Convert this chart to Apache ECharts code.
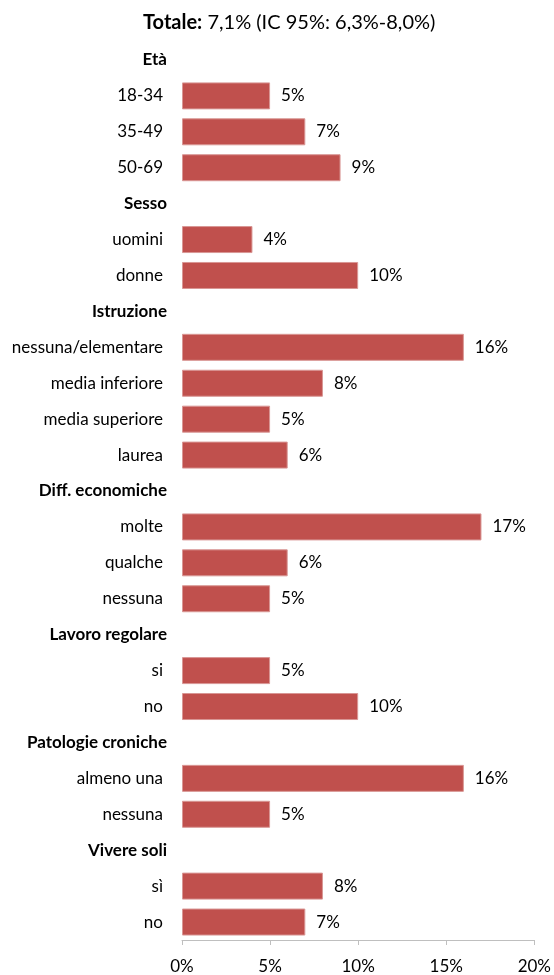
<!DOCTYPE html>
<html><head><meta charset="utf-8">
<script src="https://cdn.jsdelivr.net/npm/echarts@6/dist/echarts.min.js"></script>
<style>html,body{margin:0;padding:0;background:#fff}#c{width:554px;height:975px}</style>
</head><body><div id="c"></div>
<script>
const groups = ['Età','Sesso','Istruzione','Diff. economiche','Lavoro regolare','Patologie croniche','Vivere soli'];
const groupItems = [
  ['18-34','35-49','50-69'],
  ['uomini','donne'],
  ['nessuna/elementare','media inferiore','media superiore','laurea'],
  ['molte','qualche','nessuna'],
  ['si','no'],
  ['almeno una','nessuna'],
  ['sì','no']
];
const groupValues = [
  [5,7,9],
  [4,10],
  [16,8,5,6],
  [17,6,5],
  [5,10],
  [16,5],
  [8,7]
];
const xTicks = [0,5,10,15,20];
const titleBold = 'Totale:';
const titleRest = ' 7,1% (IC 95%: 6,3%-8,0%)';

const categories = [], values = [], isHeader = [];
groups.forEach((g,i)=>{
  categories.push(g); values.push(null); isHeader.push(true);
  groupItems[i].forEach((it,j)=>{ categories.push(it); values.push(groupValues[i][j]); isHeader.push(false); });
});

const FONT = 'Lato';
const chart = echarts.init(document.getElementById('c'));
chart.setOption({
  animation:false,
  title:{
    text:'{b|'+titleBold+'}{r|'+titleRest+'}',
    left:138, top:8,
    textStyle:{fontWeight:'normal',rich:{
      b:{fontFamily:FONT,fontWeight:'bold',fontSize:20,color:'#000'},
      r:{fontFamily:FONT,fontWeight:'normal',fontSize:20,color:'#000'}
    }}
  },
  grid:{left:182,right:17,top:42,bottom:33,containLabel:false},
  xAxis:{
    type:'value',min:xTicks[0],max:xTicks[xTicks.length-1],interval:5,
    axisLine:{show:true,lineStyle:{color:'#bfbfbf',width:1}},
    axisTick:{show:true,length:5,lineStyle:{color:'#bfbfbf'}},
    splitLine:{show:false},
    axisLabel:{formatter:'{value}%',fontFamily:FONT,fontSize:17,color:'#000',margin:18}
  },
  yAxis:{
    type:'category',inverse:true,data:categories,
    axisLine:{show:false},axisTick:{show:false},
    axisLabel:{
      margin:15,interval:0,
      formatter:(v,i)=> isHeader[i] ? '{h|'+v+'}' : '{n|'+v+'}',
      rich:{
        h:{fontFamily:FONT,fontWeight:'bold',fontSize:17,color:'#000'},
        n:{fontFamily:FONT,fontSize:17,color:'#000',padding:[0,4,0,0]}
      }
    }
  },
  series:[{
    type:'bar',data:values,barWidth:27,
    itemStyle:{color:'#c0504d',borderColor:'#d99795',borderWidth:1},
    label:{show:true,position:'right',distance:11,formatter:p=>p.value+'%',fontFamily:FONT,fontSize:17,color:'#000'}
  }]
});
</script></body></html>
